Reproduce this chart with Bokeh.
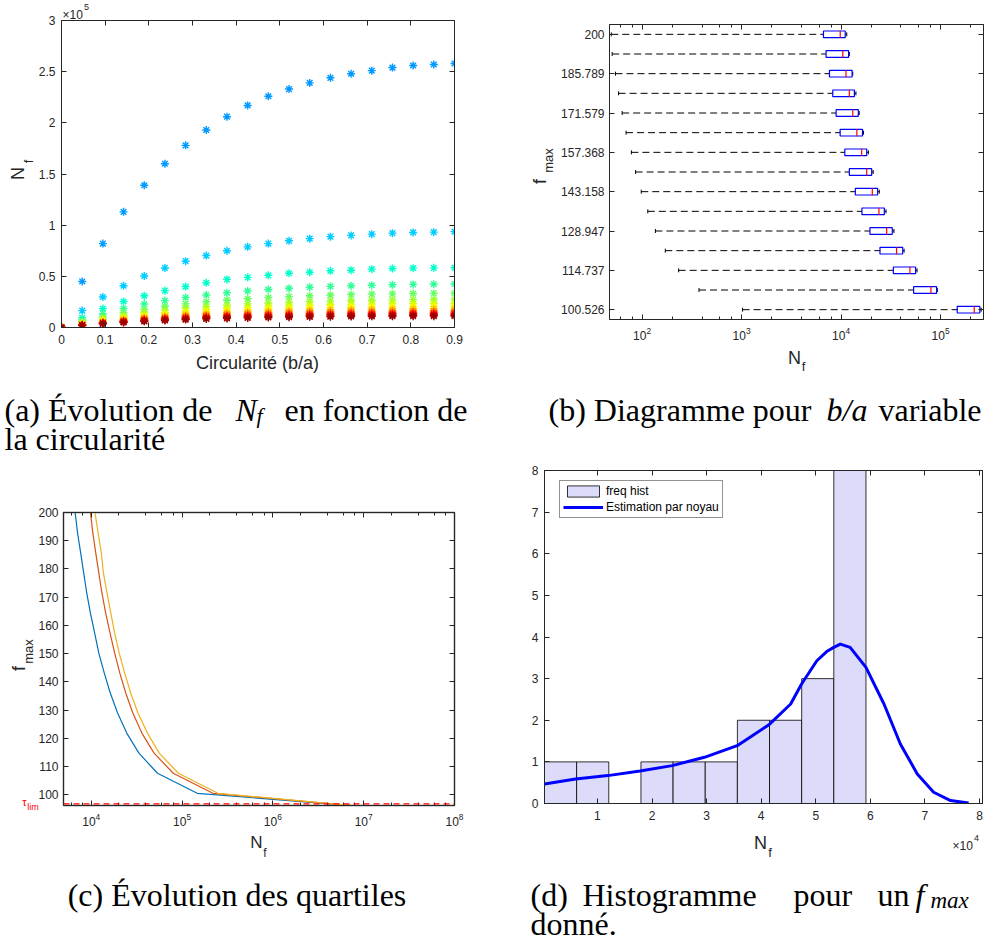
import math
from bokeh.plotting import figure
from bokeh.models import (Label, Range1d, FixedTicker, CustomJSTickFormatter, LinearAxis,
                          LogAxis, LogTicker, Legend, LegendItem, Span)
from bokeh.embed import file_html
from bokeh.resources import INLINE

# ------------------------------------------------------------------ data
# (a) N_f (thousands of cycles) versus circularity b/a, one series per f_max
CIRC = [0.0, 0.0474, 0.0947, 0.1421, 0.1895, 0.2368, 0.2842, 0.3316, 0.3789, 0.4263,
        0.4737, 0.5211, 0.5684, 0.6158, 0.6632, 0.7105, 0.7579, 0.8053, 0.8526, 0.9]
NF_F100 = [0, 45, 82, 113, 139, 160, 178, 193, 206, 217, 226, 233, 239, 244, 248, 251, 254, 256, 257, 258]
NF_F108 = [0, 16.5, 29.8, 40.8, 50.3, 58.2, 64.8, 70.3, 75.0, 78.8, 82.0, 84.7, 86.8, 88.8, 90.0, 91.2, 92.2, 92.9, 93.2, 93.7]
NF_F115 = [0, 9.5, 18.6, 25.4, 31.0, 36.0, 40.0, 43.7, 47.0, 49.0, 51.0, 53.0, 54.0, 55.4, 56.0, 57.0, 57.7, 58.0, 58.3, 58.5]
NF_F122 = [0, 7.4, 13.5, 18.6, 22.9, 26.3, 29.3, 31.8, 33.9, 35.7, 37.1, 38.3, 39.4, 40.2, 40.8, 41.3, 41.8, 42.1, 42.3, 42.5]
NF_F129 = [0, 5.9, 10.7, 14.6, 18.0, 20.7, 23.1, 25.1, 26.7, 28.1, 29.3, 30.2, 31.0, 31.7, 32.2, 32.6, 32.9, 33.2, 33.3, 33.5]
NF_F136 = [0, 4.8, 8.7, 12.0, 14.8, 17.0, 19.0, 20.6, 21.9, 23.1, 24.0, 24.8, 25.5, 26.0, 26.4, 26.7, 27.0, 27.2, 27.4, 27.5]
NF_F143 = [0, 4.1, 7.5, 10.3, 12.6, 14.5, 16.2, 17.6, 18.8, 19.7, 20.5, 21.2, 21.8, 22.2, 22.6, 22.8, 23.1, 23.3, 23.4, 23.5]
NF_F150 = [0, 3.6, 6.5, 9.0, 11.0, 12.7, 14.1, 15.3, 16.4, 17.2, 17.9, 18.5, 19.0, 19.4, 19.7, 19.9, 20.2, 20.3, 20.4, 20.5]
NF_F157 = [0, 3.2, 5.9, 8.1, 10.0, 11.4, 12.8, 13.8, 14.8, 15.5, 16.2, 16.7, 17.1, 17.5, 17.8, 18.0, 18.2, 18.3, 18.4, 18.5]
NF_F164 = [0, 2.9, 5.2, 7.2, 8.9, 10.2, 11.4, 12.3, 13.2, 13.9, 14.4, 14.9, 15.3, 15.6, 15.8, 16.0, 16.2, 16.3, 16.4, 16.5]
NF_F172 = [0, 2.6, 4.8, 6.6, 8.1, 9.3, 10.4, 11.2, 12.0, 12.6, 13.1, 13.5, 13.9, 14.2, 14.4, 14.6, 14.7, 14.9, 14.9, 15.0]
NF_F179 = [0, 2.5, 4.5, 6.1, 7.5, 8.7, 9.7, 10.5, 11.2, 11.8, 12.2, 12.6, 13.0, 13.2, 13.4, 13.6, 13.8, 13.9, 13.9, 14.0]
NF_F186 = [0, 2.3, 4.1, 5.7, 7.0, 8.0, 9.0, 9.7, 10.4, 10.9, 11.4, 11.7, 12.0, 12.3, 12.5, 12.6, 12.8, 12.9, 12.9, 13.0]
NF_F193 = [0, 2.1, 3.8, 5.2, 6.5, 7.4, 8.3, 9.0, 9.6, 10.1, 10.5, 10.8, 11.1, 11.4, 11.5, 11.7, 11.8, 11.9, 11.9, 12.0]
NF_F200 = [0, 2.0, 3.6, 4.9, 6.0, 6.9, 7.7, 8.4, 8.9, 9.4, 9.8, 10.1, 10.4, 10.6, 10.8, 10.9, 11.0, 11.1, 11.1, 11.2]
SERIES_A = [NF_F100, NF_F108, NF_F115, NF_F122, NF_F129, NF_F136, NF_F143, NF_F150,
            NF_F157, NF_F164, NF_F172, NF_F179, NF_F186, NF_F193, NF_F200]
JET15 = ["#0099ff", "#00ccff", "#00ffcc", "#33ff99", "#66ff66", "#99ff33", "#ccff00", "#ffff00",
         "#ffcc00", "#ff9900", "#ff6600", "#ff3300", "#ff0000", "#cc0000", "#990000"]
X_TICKS_A = [0, 0.1, 0.2, 0.3, 0.4, 0.5, 0.6, 0.7, 0.8, 0.9]
Y_TICKS_A = [0, 50000, 100000, 150000, 200000, 250000, 300000]

# (b) box plot of N_f for each f_max (ascending f_max)
F_LABELS = ["100.526", "107.632", "114.737", "121.842", "128.947", "136.053", "143.158", "150.263",
            "157.368", "164.474", "171.579", "178.684", "185.789", "192.895", "200"]
F_VALUES = [100.526, 107.632, 114.737, 121.842, 128.947, 136.053, 143.158, 150.263,
            157.368, 164.474, 171.579, 178.684, 185.789, 192.895, 200.0]
WHISK_LO = [1023, 373, 233, 171, 136, 114, 98, 86, 78, 69, 63, 58, 54, 50, 49]
Q1 = [147000, 53600, 33500, 24600, 19500, 16200, 13900, 12100, 10900, 9780, 8910, 8250, 7640, 7060, 6650]
MED = [218000, 80000, 49200, 36100, 28700, 24000, 20600, 18100, 16100, 14400, 13100, 12100, 11200, 10400, 9800]
Q3 = [248000, 91200, 56100, 41600, 32700, 27200, 23300, 20300, 18100, 16400, 14900, 13600, 12900, 11900, 11000]
WHISK_HI = [256000, 92700, 58000, 43000, 34000, 28300, 24200, 21000, 18800, 16800, 15200, 14100, 13100, 12100, 11400]
Y_TICKS_B = [1, 3, 5, 7, 9, 11, 13, 15]

# (c) quartile curves: f_max versus N_f
F_C = [93.421] + F_VALUES
Q1_C = [86000000] + Q1
MED_C = [68000000] + MED
Q3_C = [64000000] + Q3
TAU_LIM = 96.8
Y_TICKS_C = [100, 110, 120, 130, 140, 150, 160, 170, 180, 190, 200]

# (d) histogram + kernel density estimate
BIN_EDGES = [300, 6190, 12080, 17970, 23860, 29750, 35640, 41530, 47420, 53310, 59200]
COUNTS = [1, 1, 0, 1, 1, 1, 2, 2, 3, 8]
KDE_X = [0.03, 0.6, 1.19, 1.78, 2.37, 2.96, 3.56, 4.15, 4.54, 4.74, 5.02, 5.2, 5.33, 5.45,
         5.63, 5.92, 6.25, 6.55, 6.86, 7.16, 7.47, 7.8]
KDE_Y = [0.47, 0.59, 0.67, 0.78, 0.91, 1.11, 1.39, 1.90, 2.39, 2.87, 3.43, 3.65, 3.75, 3.83,
         3.75, 3.27, 2.39, 1.43, 0.71, 0.27, 0.07, 0.01]
X_TICKS_D = [10000, 20000, 30000, 40000, 50000, 60000, 70000, 80000]
Y_TICKS_D = [0, 1, 2, 3, 4, 5, 6, 7, 8]

# ------------------------------------------------------------------ helpers
AX = "#262626"
SANS = "Liberation Sans"
SERIF = "Liberation Serif"
EMPTY = CustomJSTickFormatter(code="return '';")


def place(x, y):
    return [f":host {{ position: absolute !important; left: {x}px !important; "
            f"top: {y}px !important; margin: 0 !important; }}"]


def base_fig(x, y, w, h, xr, yr, l, r, t, b, xlog=False):
    p = figure(width=w, height=h, x_range=xr, y_range=yr,
               x_axis_type="log" if xlog else "linear",
               output_backend="svg", toolbar_location=None, title=None,
               min_border_left=l, min_border_right=r, min_border_top=t, min_border_bottom=b,
               stylesheets=place(x, y))
    p.grid.visible = False
    p.outline_line_color = AX
    p.outline_line_width = 1
    p.background_fill_color = "white"
    p.border_fill_color = "white"
    return p


def style_axis(ax, ticker, formatter=None, minor=False, labels=True, standoff=6):
    ax.ticker = ticker
    if formatter is not None:
        ax.formatter = formatter
    ax.axis_line_color = AX
    ax.axis_line_width = 1
    ax.major_tick_line_color = AX
    ax.major_tick_in = 5
    ax.major_tick_out = 0
    if minor:
        ax.minor_tick_line_color = AX
        ax.minor_tick_in = 3
    else:
        ax.minor_tick_line_color = None
        ax.minor_tick_in = 0
    ax.minor_tick_out = 0
    ax.major_label_text_font = SANS
    ax.major_label_text_color = AX
    if labels:
        ax.major_label_text_font_size = "12px"
        ax.major_label_standoff = standoff
    else:
        ax.major_label_text_font_size = "0px"
        ax.major_label_standoff = 0


def mirror(p, xticker, yticker, xlog=False, minor_x=False):
    top = LogAxis() if xlog else LinearAxis()
    style_axis(top, xticker, EMPTY, minor=minor_x, labels=False)
    p.add_layout(top, "above")
    right = LinearAxis()
    style_axis(right, yticker, EMPTY, labels=False)
    p.add_layout(right, "right")


# ------------------------------------------------------------------ (a)
fa = base_fig(0, 0, 492, 375, (0, 0.9), (0, 300000), 61, 38, 20, 48)
for s, c in zip(SERIES_A, JET15):
    fa.scatter(CIRC, [v * 1000 for v in s], marker="asterisk", size=8,
               line_color=c, line_width=1.4)
tx_a = FixedTicker(ticks=X_TICKS_A)
ty_a = FixedTicker(ticks=Y_TICKS_A)
style_axis(fa.xaxis[0], tx_a, CustomJSTickFormatter(code="return Number(tick.toFixed(2)).toString();"), standoff=7)
style_axis(fa.yaxis[0], ty_a, CustomJSTickFormatter(code="return Number((tick/1e5).toFixed(2)).toString();"))
mirror(fa, tx_a, ty_a)

# ------------------------------------------------------------------ (b)
POS = list(range(1, len(F_LABELS) + 1))
fb = base_fig(492, 0, 492, 375, (47, 270000), (0.5, 15.5), 117, 1, 24, 56, xlog=True)
fb.segment(x0=WHISK_LO, y0=POS, x1=Q1, y1=POS, line_color="black", line_width=1, line_dash="7 4")
fb.segment(x0=Q3, y0=POS, x1=WHISK_HI, y1=POS, line_color="black", line_width=1, line_dash="7 4")
fb.scatter(WHISK_LO, POS, marker="dash", angle=math.pi / 2, size=4, line_color="black", line_width=1)
fb.scatter(WHISK_HI, POS, marker="dash", angle=math.pi / 2, size=4, line_color="black", line_width=1)
fb.hbar(y=POS, left=Q1, right=Q3, height=0.34, fill_color=None, line_color="#0000ff", line_width=1.2)
fb.scatter(MED, POS, marker="dash", angle=math.pi / 2, size=7, line_color="#ff0000", line_width=1.2)
tx_b = LogTicker()
ty_b = FixedTicker(ticks=Y_TICKS_B)
style_axis(fb.xaxis[0], tx_b, minor=True, standoff=7)
style_axis(fb.yaxis[0], ty_b, CustomJSTickFormatter(args=dict(labels=F_LABELS),
           code="const i = Math.round(tick) - 1; return (i >= 0 && i < labels.length) ? labels[i] : '';"), standoff=5)
mirror(fb, tx_b, ty_b, xlog=True, minor_x=True)

# ------------------------------------------------------------------ (c)
fc = base_fig(0, 450, 492, 415, (4950, 100000000), (96.2, 200), 63, 38, 62, 60, xlog=True)
fc.line(Q1_C, F_C, line_color="#0072BD", line_width=1.2)
fc.line(MED_C, F_C, line_color="#D95319", line_width=1.2)
fc.line(Q3_C, F_C, line_color="#EDB120", line_width=1.2)
fc.add_layout(Span(location=TAU_LIM, dimension="width", line_color="#ff0000",
                   line_dash="6 4", line_width=1.2))
tx_c = LogTicker()
ty_c = FixedTicker(ticks=Y_TICKS_C)
style_axis(fc.xaxis[0], tx_c, minor=True, standoff=7)
style_axis(fc.yaxis[0], ty_c, standoff=5)
mirror(fc, tx_c, ty_c, xlog=True, minor_x=True)
fc.outline_line_color = "#555555"
fc.outline_line_width = 1.5

# ------------------------------------------------------------------ (d)
fd = base_fig(492, 450, 492, 415, (300, 80550), (0, 8), 52, 2, 20, 62)
q = fd.quad(left=BIN_EDGES[:-1], right=BIN_EDGES[1:], top=COUNTS, bottom=0,
            fill_color="#dcdcfa", line_color="black", line_width=0.8)
kl = fd.line([v * 10000 for v in KDE_X], KDE_Y, line_color="#0000ff", line_width=3,
             line_join="round")
tx_d = FixedTicker(ticks=X_TICKS_D)
ty_d = FixedTicker(ticks=Y_TICKS_D)
style_axis(fd.xaxis[0], tx_d, CustomJSTickFormatter(code="return (tick/1e4).toString();"), standoff=7)
style_axis(fd.yaxis[0], ty_d)
mirror(fd, tx_d, ty_d)
leg = Legend(items=[LegendItem(label="freq hist", renderers=[q]),
                    LegendItem(label="Estimation par noyau", renderers=[kl])],
             location=(15, 285), border_line_color=AX, border_line_width=0.8,
             background_fill_color="white", background_fill_alpha=1.0,
             label_text_font=SANS, label_text_font_size="12px", label_text_color="black",
             glyph_width=40, glyph_height=14, label_height=14, padding=3, spacing=2,
             margin=0, label_standoff=3)
fd.add_layout(leg)

# ------------------------------------------------------------------ text layer
# axis titles, scale factors and sub-figure captions (page pixel coordinates)
ov = figure(width=984, height=945, x_range=Range1d(0, 984), y_range=Range1d(-945, 0),
            x_axis_type=None, y_axis_type=None, output_backend="svg",
            toolbar_location=None, title=None, min_border=0, stylesheets=place(0, 0))
ov.outline_line_color = None
ov.grid.visible = False
ov.background_fill_color = None
ov.border_fill_color = None


def t(px, py, text, size, color=AX, angle=0.0, align="center", baseline="middle",
      font=SANS, style="normal"):
    ov.add_layout(Label(x=px, y=-py, text=text, text_font=font, text_font_size=f"{size}px",
                        text_font_style=style, text_color=color, angle=angle,
                        text_align=align, text_baseline=baseline))


BASE_FIX = 9  # alphabetic baseline correction


def cap(px, py, text, size=32, style="normal", align="left"):
    t(px, py - BASE_FIX, text, size, color="black", align=align, baseline="alphabetic",
      font=SERIF, style=style)


R = math.pi / 2
# (a)
t(257, 362, "Circularité (b/a)", 18)
t(17.5, 173, "N", 18, angle=R)
t(28, 161, "f", 13, angle=R)
t(62, 14, "×10", 12, align="left")
t(83.5, 6, "5", 9, align="left")
# (b)
t(794, 357, "N", 18)
t(803, 366, "f", 13)
t(539, 181, "f", 18, angle=R)
t(548, 160, "max", 13, angle=R)
# (c)
t(256, 842, "N", 17)
t(264.5, 852, "f", 12)
t(18.5, 668, "f", 18, angle=R)
t(28, 651, "max", 13, angle=R)
t(24, 801, "τ", 11, color="#ff0000")
t(32.5, 806, "lim", 9, color="#ff0000")
# (d)
t(760, 842, "N", 18)
t(769.5, 852, "f", 13)
t(952, 845, "×10", 12, align="left")
t(973.5, 837, "4", 9, align="left")

# captions
cap(4, 418, "(a) Évolution de")
cap(235, 418, "N", style="italic")
cap(256, 424, "f", size=22, style="italic")
cap(467, 418, "en fonction de", align="right")
cap(4, 447, "la circularité")
cap(548, 418, "(b) Diagramme pour")
cap(826, 418, "b/a", style="italic")
cap(878, 418, "variable")
cap(236.5, 903, "(c) Évolution des quartiles", align="center")
cap(530, 903, "(d)")
cap(582, 903, "Histogramme")
cap(793, 903, "pour")
cap(877, 903, "un")
cap(915, 903, "f", style="italic")
cap(930, 909, "max", size=23, style="italic")
cap(530, 932, "donné.")

open("out.html", "w").write(file_html([fa, fb, fc, fd, ov], INLINE))
